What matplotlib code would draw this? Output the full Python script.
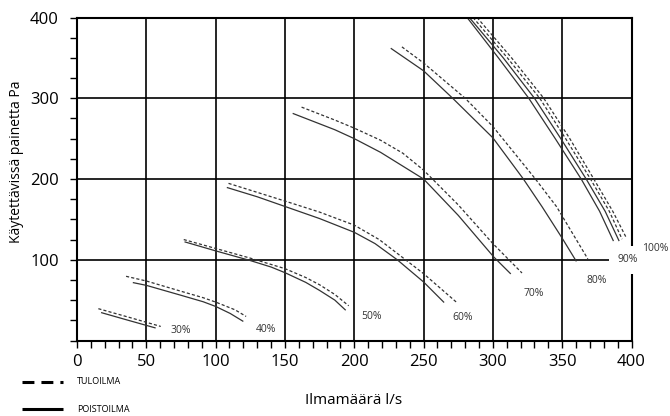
"""
Ilmamäärä / käytettävissä oleva paine -käyrät (tulo- ja poistoilma).
"""
import matplotlib
matplotlib.use("Agg")
import matplotlib.pyplot as plt
from matplotlib.lines import Line2D
from matplotlib.ticker import MultipleLocator, FuncFormatter

plt.rcParams['font.family'] = ['Open Sans', 'DejaVu Sans']

# Käyrien arvot luettu kuvasta (l/s, Pa)
speed_labels = ['30%', '40%', '50%', '60%', '70%', '80%', '90%', '100%']

# Poistoilma (yhtenäinen viiva)
poisto_x = {
    '30%': [17.8, 37, 56.3],
    '40%': [40.7, 50, 75, 91, 100, 110.5, 119.6],
    '50%': [78, 100, 125, 140, 150, 165, 175, 186, 193.5],
    '60%': [108.5, 130, 150, 175, 200, 215, 231, 250, 264.5],
    '70%': [156, 186, 200, 219, 250, 275, 300.6, 312.6],
    '80%': [226.7, 250, 271, 300, 322, 335.5, 350, 360],
    '90%': [281.4, 304, 325.9, 345, 363.7, 377, 386.8],
    '100%': [283, 307.5, 330, 349, 367.3, 381, 390.9],
}
poisto_y = {
    '30%': [34.4, 25, 15.7],
    '40%': [71.6, 68.3, 56, 48, 42.2, 33.5, 24],
    '50%': [122, 111, 99, 91, 84, 72, 62, 50, 38],
    '60%': [189.3, 178, 166, 151, 134, 120, 100, 72.5, 47.6],
    '70%': [281, 261, 250, 233, 200, 155, 103.5, 83],
    '80%': [361.5, 334, 300, 251, 200, 165.6, 126.7, 98.6],
    '90%': [400, 350, 300, 250, 200, 160, 123.8],
    '100%': [400, 350, 300, 250, 200, 160, 123.8],
}

# Tuloilma (katkoviiva)
tulo_x = {
    '30%': [15.4, 38, 60.4],
    '40%': [35.4, 50, 75, 91, 100, 114, 122],
    '50%': [77, 100, 125, 150, 165, 175, 186, 196],
    '60%': [109.3, 150, 175, 200, 218, 237, 250, 273.6],
    '70%': [162, 186, 200, 219, 235, 250, 275, 300, 321],
    '80%': [234.4, 250, 280, 300, 330.7, 346, 368.5],
    '90%': [285.7, 310.5, 333.8, 352.5, 370.4, 384, 393.2],
    '100%': [288.6, 313.5, 336.7, 355.5, 372.8, 386.5, 396.4],
}
tulo_y = {
    '30%': [39.4, 28.5, 17.4],
    '40%': [79.5, 73.7, 61, 53, 47.6, 38, 29.8],
    '50%': [125, 114, 102, 89, 78, 69, 57, 43],
    '60%': [194.6, 172.7, 159, 142.9, 125, 100, 82.8, 47.6],
    '70%': [289, 273, 263, 248, 232, 211, 168, 120, 83.6],
    '80%': [363.6, 343.7, 300, 265, 200, 165.6, 101],
    '90%': [400, 350, 300, 250, 200, 160, 125.5],
    '100%': [400, 350, 300, 250, 200, 160, 126.7],
}

# Nopeusmerkintöjen paikat (l/s, Pa)
label_x = [75, 136.5, 212.8, 278.5, 329.2, 374.7, 397.1, 417.3]
label_y = [12.4, 13.7, 29.8, 28.2, 58.4, 74.5, 100, 114.3]

x_ticks = [0, 50, 100, 150, 200, 250, 300, 350, 400]
y_ticks = [0, 100, 200, 300, 400]

LINE_COLOR = '#333333'

fig = plt.figure(figsize=(6.7, 4.16), dpi=100)
ax = fig.add_axes([77 / 670, 1 - 340.5 / 416, 554.5 / 670, 323 / 416])

for speed in speed_labels:
    ax.plot(poisto_x[speed], poisto_y[speed], color=LINE_COLOR, lw=0.9,
            solid_joinstyle='round', zorder=3)
    ax.plot(tulo_x[speed], tulo_y[speed], color=LINE_COLOR, lw=0.9,
            dashes=(2.5, 1.7), zorder=3)

for i, speed in enumerate(speed_labels):
    if speed == '90%':
        ax.text(label_x[i], label_y[i], speed, fontsize=7.5, color='#333333',
                ha='center', va='center', clip_on=False, zorder=6,
                bbox=dict(boxstyle='square,pad=0.8', facecolor='white',
                          edgecolor='none'))
    else:
        ax.text(label_x[i], label_y[i], speed, fontsize=7.5, color='#333333',
                ha='center', va='center', clip_on=False, zorder=6)

ax.set_xlim(0, 400)
ax.set_ylim(0, 400)
ax.set_xticks(x_ticks)
ax.set_yticks(y_ticks)
ax.xaxis.set_minor_locator(MultipleLocator(10))
ax.yaxis.set_minor_locator(MultipleLocator(25))
ax.yaxis.set_major_formatter(FuncFormatter(lambda v, p: '' if v == 0 else f'{v:.0f}'))
ax.tick_params(which='both', direction='out', length=5, width=1.0, color='black')
ax.tick_params(axis='x', which='major', labelsize=12, pad=5)
ax.tick_params(axis='y', which='major', labelsize=12, pad=8)

ax.grid(True, which='major', color='black', lw=1.2)
ax.set_axisbelow(True)
for side in ['left', 'right', 'top', 'bottom']:
    ax.spines[side].set_linewidth(1.5)
    ax.spines[side].set_zorder(5)

# Akselien nimet
fig.text(354 / 670, 1 - 400 / 416, 'Ilmamäärä l/s', fontsize=11,
         ha='center', va='center')
fig.text(17 / 670, 1 - 162 / 416, 'Käytettävissä painetta Pa', fontsize=10,
         ha='center', va='center', rotation=90)

# Selite
y_tulo = 1 - 382 / 416
y_poisto = 1 - 409 / 416
fig.add_artist(Line2D([22 / 670, 63 / 670], [y_tulo, y_tulo], color='black',
                      lw=2.2, dashes=(3.9, 2.3), dash_capstyle='butt'))
fig.add_artist(Line2D([22 / 670, 63 / 670], [y_poisto, y_poisto], color='black',
                      lw=2.2, solid_capstyle='butt'))
fig.text(77 / 670, y_tulo, 'TULOILMA', fontsize=6.5, ha='left', va='center')
fig.text(77 / 670, y_poisto, 'POISTOILMA', fontsize=6.5, ha='left', va='center')

plt.savefig('out.png', dpi=100)
plt.close()
